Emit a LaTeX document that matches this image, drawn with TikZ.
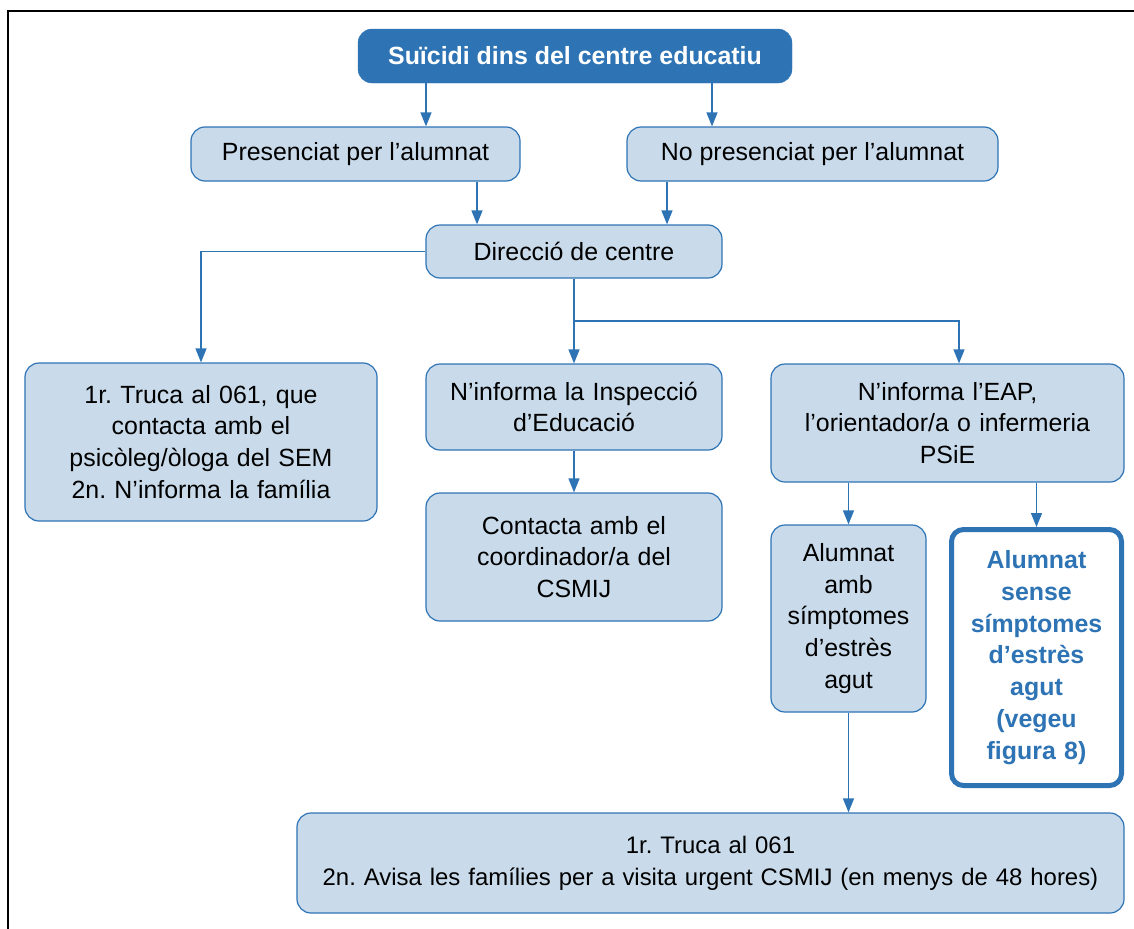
\documentclass[tikz,border=0pt]{standalone}
\usepackage{fontspec}
\setmainfont{Liberation Sans}
\usetikzlibrary{arrows.meta}
\definecolor{dblue}{HTML}{2E74B5}
\definecolor{lblue}{HTML}{C9DBEB}
\frenchspacing
\tikzset{
  box/.style={draw=dblue, line width=1.2bp, fill=lblue, rounded corners=14bp, align=center,
    inner sep=0pt, font=\fontsize{25}{32}\selectfont, text=black},
  topbox/.style={fill=dblue, draw=dblue, rounded corners=14bp, inner sep=0pt,
    font=\fontsize{25}{32}\selectfont\bfseries, text=white},
  sensebox/.style={draw=dblue, line width=5bp, fill=white, rounded corners=12bp, align=center,
    inner sep=0pt, font=\fontsize{25}{32}\selectfont\bfseries, text=dblue},
  arr/.style={draw=dblue, line width=1.3bp, -{Triangle[width=11bp,length=14bp]}},
  ln/.style={draw=dblue, line width=1.3bp}
}
\begin{document}
\begin{tikzpicture}[x=1bp,y=-1bp]
\useasboundingbox (0,0) rectangle (1134,929);
\draw[black, line width=1.5bp] (1134,11) -- (8,11) -- (8,929);

\node[topbox, minimum width=434bp, minimum height=54bp] (top) at (575,56) {Suïcidi dins del centre educatiu};
\node[box, minimum width=329bp, minimum height=54bp] (pres) at (355.5,154) {Presenciat per l’alumnat};
\node[box, minimum width=371bp, minimum height=54bp] (nopres) at (812.5,154) {No presenciat per l’alumnat};
\node[box, minimum width=296bp, minimum height=53bp] (dir) at (574,251.5) {Direcció de centre};
\node[box, minimum width=352bp, minimum height=158bp, text width=340bp] (left) at (201,442)
  {1r. Truca al 061, que\\contacta amb el\\psicòleg/òloga del SEM\\2n. N’informa la família};
\node[box, minimum width=296bp, minimum height=86bp, text width=290bp] (insp) at (574,407)
  {N’informa la Inspecció\\d’Educació};
\node[box, minimum width=296bp, minimum height=128bp, text width=290bp] (csmij) at (574,557)
  {Contacta amb el\\coordinador/a del\\CSMIJ};
\node[box, minimum width=353bp, minimum height=118bp, text width=345bp] (eap) at (947.5,423)
  {N’informa l’EAP,\\l’orientador/a o infermeria\\PSiE};
\node[box, minimum width=155bp, minimum height=187bp, text width=150bp] (amb) at (848.5,618.5)
  {Alumnat\\amb\\símptomes\\d’estrès\\agut};
\node[sensebox, minimum width=170bp, minimum height=256bp, text width=165bp] (sense) at (1036.5,657.5)
  {Alumnat\\sense\\símptomes\\d’estrès\\agut\\(vegeu\\figura 8)};
\node[box, minimum width=827bp, minimum height=100bp, text width=820bp, font=\fontsize{24}{32}\selectfont] (bot) at (710.5,863)
  {1r. Truca al 061\\2n. Avisa les famílies per a visita urgent CSMIJ (en menys de 48 hores)};

\draw[arr] (426,0 |- top.south) -- (426,0 |- pres.north);
\draw[arr] (712,0 |- top.south) -- (712,0 |- nopres.north);
\draw[arr] (477,0 |- pres.south) -- (477,0 |- dir.north);
\draw[arr] (667,0 |- nopres.south) -- (667,0 |- dir.north);
\draw[arr] (dir.west) -| (left.north);
\draw[arr] (dir.south) -- (insp.north);
\coordinate (br) at (dir.south |- 0,321);
\draw[arr] (br) -| (959,0 |- eap.north);
\draw[arr] (insp.south) -- (csmij.north);
\draw[arr] (amb.north |- eap.south) -- (amb.north);
\draw[arr] (sense.north |- eap.south) -- (sense.north);
\draw[arr] (amb.south) -- (amb.south |- bot.north);
\end{tikzpicture}
\end{document}
